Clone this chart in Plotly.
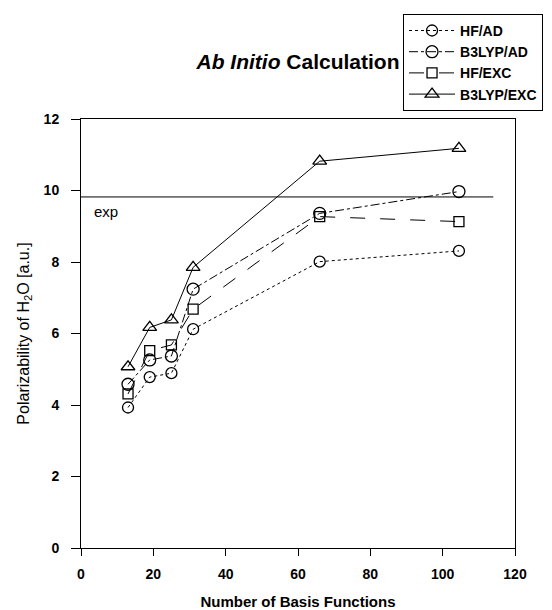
import plotly.graph_objects as go

basis = [13, 19, 25, 31, 66, 104.5]
hf_ad = [3.93, 4.78, 4.89, 6.12, 8.01, 8.31]
b3lyp_ad = [4.58, 5.26, 5.37, 7.24, 9.36, 9.97]
hf_exc = [4.31, 5.52, 5.68, 6.68, 9.27, 9.13]
b3lyp_exc = [5.07, 6.17, 6.38, 7.85, 10.82, 11.18]
exp_x = [0, 114]
exp_val = 9.82

FONT = "Liberation Sans, Arial, sans-serif"

fig = go.Figure()

series = [
    ("HF/AD", hf_ad, "circle-open", "dot", 11),
    ("B3LYP/AD", b3lyp_ad, "circle-open", "dashdot", 12),
    ("HF/EXC", hf_exc, "square-open", "longdash", 10),
    ("B3LYP/EXC", b3lyp_exc, "triangle-up-open", "solid", 12),
]
for name, ys, sym, dash, sz in series:
    fig.add_trace(go.Scatter(
        x=basis, y=ys, name=name, mode="lines+markers",
        line=dict(color="black", width=1, dash=dash),
        marker=dict(symbol=sym, size=sz, color="black", line=dict(width=1.3, color="black")),
    ))

fig.add_trace(go.Scatter(
    x=exp_x, y=[exp_val, exp_val], mode="lines", showlegend=False,
    line=dict(color="black", width=1), hoverinfo="skip",
))

fig.add_annotation(x=3, y=9.42, text="exp", showarrow=False, xanchor="left",
                   font=dict(family=FONT, size=15, color="black"))

fig.update_layout(
    width=552, height=610,
    margin=dict(l=81, r=37, t=119, b=62, autoexpand=False),
    plot_bgcolor="white", paper_bgcolor="white",
    font=dict(family=FONT, color="black"),
    title=dict(text="<i>Ab Initio</i> Calculation", x=0.5, xref="paper",
               y=1 - 62 / 610, yanchor="middle", xanchor="center",
               font=dict(family=FONT, size=21, color="black", weight="bold")),
    legend=dict(x=0.742, y=1.245, xanchor="left", yanchor="top",
                bordercolor="black", borderwidth=1, bgcolor="white",
                font=dict(family=FONT, size=14, color="black", weight="bold"),
                tracegroupgap=0, itemwidth=46),
    showlegend=True,
)

fig.update_xaxes(range=[0, 120], tickvals=[0, 20, 40, 60, 80, 100, 120],
                 ticks="outside", ticklen=7, tickcolor="black", showgrid=False,
                 zeroline=False, showline=True, linecolor="black", linewidth=1, mirror=True,
                 ticklabelstandoff=6,
                 tickfont=dict(family=FONT, size=14, color="black", weight="bold"),
                 title=dict(text="Number of Basis Functions",
                            font=dict(family=FONT, size=15, color="black", weight="bold"),
                            standoff=19))
fig.update_yaxes(range=[0, 12], tickvals=[0, 2, 4, 6, 8, 10, 12],
                 ticks="outside", ticklen=9, tickcolor="black", showgrid=False,
                 zeroline=False, showline=True, linecolor="black", linewidth=1, mirror=True,
                 ticklabelstandoff=9,
                 tickfont=dict(family=FONT, size=14, color="black", weight="bold"),
                 title=dict(text="Polarizability of H<sub>2</sub>O [a.u.]",
                            font=dict(family=FONT, size=16, color="black"), standoff=10))

fig.write_html("out.html", config={"displayModeBar": False},
               post_script="document.body.style.margin='0';")
